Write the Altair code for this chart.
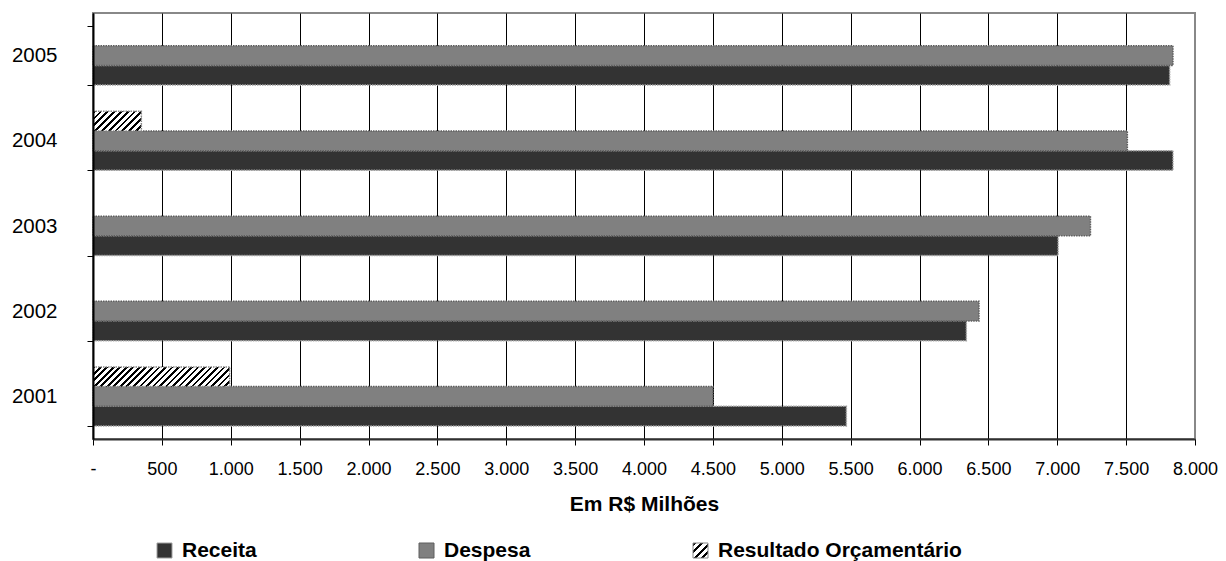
import altair as alt
import pandas as pd

# ---------------- data ----------------
years = ["2005", "2004", "2003", "2002", "2001"]
receita = [7816, 7840, 7006, 6340, 5469]
despesa = [7840, 7509, 7241, 6432, 4501]
resultado_years = ["2004", "2001"]
resultado = [351, 992]
x_ticks = list(range(0, 8001, 500))

S_REC = "Receita"
S_DES = "Despesa"
S_RES = "Resultado Orçamentário"
series_order = [S_RES, S_DES, S_REC]      # top -> bottom inside each year
legend_order = [S_REC, S_DES, S_RES]

rows = []
for yr, r, d in zip(years, receita, despesa):
    rows.append({"year": yr, "series": S_REC, "value": r})
    rows.append({"year": yr, "series": S_DES, "value": d})
for yr, v in zip(resultado_years, resultado):
    rows.append({"year": yr, "series": S_RES, "value": v})
df = pd.DataFrame(rows)

# ---------------- layout / style ----------------
W, H = 1102, 426
FONT = "Liberation Sans"
PAD_IN = 0.307
BAR_H = H / 5 * (1 - PAD_IN) / 3
PX_PER_UNIT = W / 8000


def hatch(w_px, h_px, period=6.5, ink=0.42):
    """Diagonal '/' stripes as a linear gradient with hard stops."""
    r = h_px / w_px
    k = (1 + r) / (1 + r * r)
    n = max(1, round((w_px + h_px) / period))
    stops = []
    for i in range(n):
        a = round(i / n, 5)
        b = round((i + ink) / n, 5)
        c = round((i + 1) / n, 5)
        stops += [
            {"offset": a, "color": "#000000"},
            {"offset": b, "color": "#000000"},
            {"offset": b, "color": "#ffffff"},
            {"offset": c, "color": "#ffffff"},
        ]
    return {"gradient": "linear", "x1": 0, "y1": 0,
            "x2": round(k, 5), "y2": round(k * r, 5), "stops": stops}


def grad_expr(g):
    stops = ",".join("{offset:%s,color:'%s'}" % (s["offset"], s["color"])
                     for s in g["stops"])
    return ("{gradient:'linear',x1:%s,y1:%s,x2:%s,y2:%s,stops:[%s]}"
            % (g["x1"], g["y1"], g["x2"], g["y2"], stops))


def build(hatch_legend=True):
    y_enc = alt.Y(
        "year:N", sort=years,
        scale=alt.Scale(paddingInner=PAD_IN, paddingOuter=PAD_IN / 2),
        axis=alt.Axis(title=None, labelFont=FONT, labelFontSize=20.5,
                      labelColor="black", labelPadding=30, tickSize=6,
                      tickColor="black", tickWidth=1, tickBand="extent",
                      domainColor="black", domainWidth=2, grid=False,
                      zindex=1),
    )
    yoff_enc = alt.YOffset(
        "series:N", sort=series_order,
        scale=alt.Scale(domain=series_order, paddingInner=0, paddingOuter=0),
    )
    x_enc = alt.X(
        "value:Q",
        scale=alt.Scale(domain=[0, 8000], nice=False, zero=True),
        axis=alt.Axis(
            values=x_ticks,
            labelExpr="datum.value == 0 ? '-' : replace(format(datum.value, ','), ',', '.')",
            labelFont=FONT, labelFontSize=18, labelColor="black",
            labelBaseline="alphabetic", labelPadding=29, labelFlush=False,
            labelOverlap=False,
            tickSize=6, tickColor="black", tickWidth=1,
            domainColor="#303030", domainWidth=2,
            grid=True,
            gridColor={"condition": {"test": "datum.value === 8000", "value": "#888888"},
                       "value": "#000000"},
            gridWidth=1,
            title="Em R$ Milhões", titleFont=FONT, titleFontSize=21,
            titleFontWeight="bold", titleColor="black",
            titleBaseline="alphabetic", titleY=71,
        ),
    )

    legend = alt.Legend(
        title=None, orient="none", legendX=61, legendY=527,
        direction="horizontal", columns=3, gridAlign="none", columnPadding=159,
        symbolType="square", symbolSize=225, symbolStrokeColor="#8c8c8c",
        symbolStrokeWidth=1, labelFont=FONT, labelFontSize=21,
        labelFontWeight="bold", labelColor="black", labelOffset=7,
        padding=0, labelLimit=400,
    )
    if hatch_legend:
        third = {"expr": grad_expr(hatch(15, 15, period=7.5))}
    else:
        third = "#d0d0d0"

    bars = alt.Chart(df).transform_filter(
        f"datum.series !== '{S_RES}'"
    ).mark_bar(strokeWidth=1.5, strokeDash=[1.5, 1]).encode(
        x=x_enc, y=y_enc, yOffset=yoff_enc,
        fill=alt.Fill("series:N",
                      scale=alt.Scale(domain=legend_order,
                                      range=["#333333", "#808080", third]),
                      legend=legend),
        stroke=alt.Stroke("series:N",
                          scale=alt.Scale(domain=legend_order,
                                          range=["#a0a0a0", "#5e5e5e", "#888888"]),
                          legend=None),
    )

    layers = [bars]
    for yr, v in zip(resultado_years, resultado):
        w_px = v * PX_PER_UNIT
        layers.append(
            alt.Chart(df).transform_filter(
                f"datum.series === '{S_RES}' && datum.year === '{yr}'"
            ).mark_bar(fill=hatch(w_px, BAR_H), stroke="#888888",
                       strokeWidth=1.5, strokeDash=[1.5, 1]).encode(
                x=x_enc, y=y_enc, yOffset=yoff_enc,
            )
        )

    chart = alt.layer(*layers).properties(
        width=W, height=H,
        autosize=alt.AutoSizeParams(type="none"),
        padding={"left": 85, "top": 5, "right": 23, "bottom": 122},
        background="white",
    ).configure_view(stroke="#888888", strokeWidth=2)
    return chart


try:
    chart = build(True)
    chart.to_dict()
except Exception:
    chart = build(False)

chart.save("out.html", embed_options={"renderer": "svg", "actions": False})
